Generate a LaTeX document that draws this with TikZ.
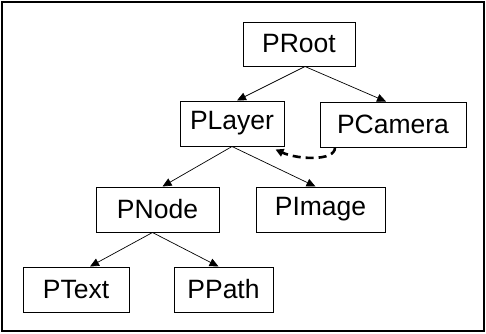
\documentclass[tikz,border=0pt]{standalone}
\usepackage{fontspec}
\setmainfont{Liberation Sans}
\usetikzlibrary{arrows.meta}
\begin{document}
\begin{tikzpicture}[x=1pt,y=-1pt,
  cls/.style={draw,line width=1pt,inner sep=0pt,minimum height=45pt,font=\fontsize{26.5}{28}\selectfont},
  inh/.style={line width=0.7pt,-{Triangle[length=9pt,width=8pt]}},
  ref/.style={line width=2.6pt,dash pattern=on 8pt off 5pt,-{Triangle[length=8pt,width=8pt]}}]
\useasboundingbox (0,0) rectangle (486,333);
\draw[line width=2pt] (2,2) rectangle (484,331);
\node[cls,minimum width=112pt,minimum height=44pt] (proot) at (299,44) {PRoot};
\node[cls,minimum width=104pt] (player) at (232,123.5) {PLayer};
\node[cls,minimum width=146pt] (pcam) at (393,124.5) {PCamera};
\node[cls,minimum width=123pt] (pnode) at (157.5,209.5) {PNode};
\node[cls,minimum width=129pt] (pimage) at (320.5,209.5) {PImage};
\node[cls,minimum width=106pt] (ptext) at (76,289.5) {PText};
\node[cls,minimum width=99pt] (ppath) at (223.5,289.5) {PPath};
\draw[inh] ([xshift=6pt]proot.south) -- ([xshift=5pt]player.north);
\draw[inh] ([xshift=6pt]proot.south) -- ([xshift=-7pt]pcam.north);
\draw[inh] (player.south) -- ([xshift=5pt]pnode.north);
\draw[inh] (player.south) -- ([xshift=-5pt]pimage.north);
\draw[inh] ([xshift=-5pt]pnode.south) -- ([xshift=14pt]ptext.north);
\draw[inh] ([xshift=-5pt]pnode.south) -- ([xshift=-5pt]ppath.north);
\draw[ref] ([xshift=-58pt]pcam.south) .. controls +(0,14) and +(22,10) .. ([xshift=-9pt,yshift=-3pt]player.south east);
\end{tikzpicture}
\end{document}
